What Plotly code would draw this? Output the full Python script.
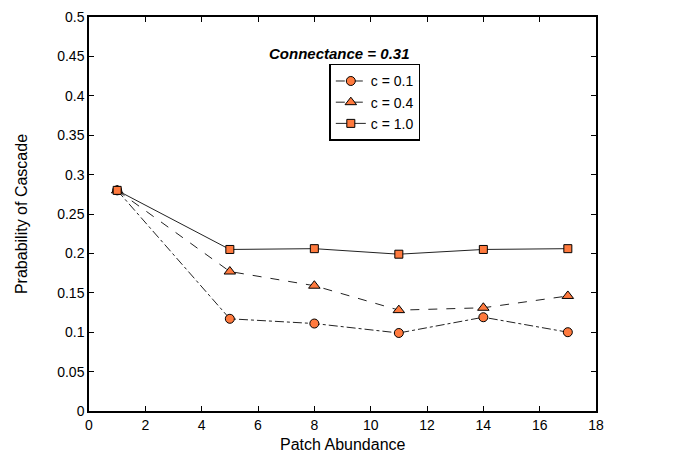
import plotly.graph_objects as go

patch = [1, 5, 8, 11, 14, 17]
c01 = [0.280, 0.117, 0.111, 0.099, 0.119, 0.100]
c04 = [0.280, 0.177, 0.159, 0.128, 0.131, 0.146]
c10 = [0.280, 0.205, 0.206, 0.199, 0.205, 0.206]
names = ["c = 0.1", "c = 0.4", "c = 1.0"]
xticks = list(range(0, 19, 2))
yticks = [round(0.05 * i, 2) for i in range(11)]

orange = "rgb(255,122,62)"
fig = go.Figure()
specs = [(c01, "dashdot", "circle", 9), (c04, "dash", "triangle-up", 10), (c10, "solid", "square", 8)]
for (vals, dash, sym, sz), nm in zip(specs, names):
    fig.add_trace(go.Scatter(
        x=patch, y=vals, name=nm, mode="lines+markers",
        line=dict(color="#222", width=1, dash=dash),
        marker=dict(symbol=sym, size=sz, color=orange, line=dict(color="black", width=1)),
    ))

font = "Liberation Sans, Arial, sans-serif"
axis_common = dict(showline=True, linecolor="black", linewidth=1.5, mirror="ticks",
                   ticks="inside", ticklen=5, tickcolor="black", showgrid=False,
                   zeroline=False, automargin=False,
                   tickfont=dict(size=14, color="black", family=font))
fig.update_xaxes(range=[0, 18], tickvals=xticks, ticktext=[str(v) for v in xticks], **axis_common)
fig.update_yaxes(range=[0, 0.5], tickvals=yticks, ticktext=[("%g" % v) for v in yticks], **axis_common)

fig.add_annotation(text="Patch Abundance", xref="paper", yref="paper", x=0.5, y=-0.086,
                   xanchor="center", yanchor="middle", showarrow=False,
                   font=dict(size=16, color="black", family=font))
fig.add_annotation(text="Prabability of Cascade", xref="paper", yref="paper", x=-0.134, y=0.5,
                   xanchor="center", yanchor="middle", textangle=-90, showarrow=False,
                   font=dict(size=16, color="black", family=font))
fig.add_annotation(text="<b><i>Connectance = 0.31</i></b>", xref="paper", yref="paper",
                   x=0.493, y=0.934, showarrow=False, font=dict(size=15, color="black", family=font))
fig.update_layout(
    width=682, height=457, margin=dict(l=89, r=86, t=17, b=46),
    plot_bgcolor="white", paper_bgcolor="white", showlegend=True,
    legend=dict(x=0.474, y=0.881, xanchor="left", yanchor="top", bordercolor="black", borderwidth=1.5,
                bgcolor="white", font=dict(size=14, color="black", family=font), itemwidth=30,
                tracegroupgap=0),
)
fig.write_html("out.html", config={"displayModeBar": False},
               post_script="document.body.style.margin='0px';")
